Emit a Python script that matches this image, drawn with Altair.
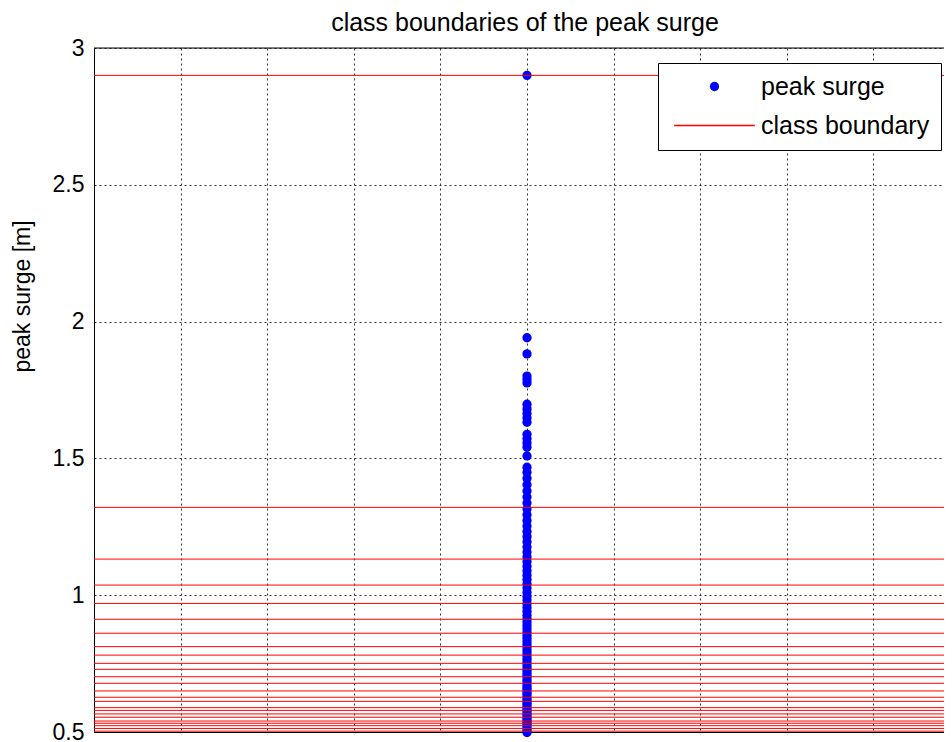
import altair as alt
import pandas as pd

# ---- data ----
SURGE_X = 5  # all events plotted at the same abscissa
PEAK_SURGE = [
    0.498, 0.505, 0.512, 0.520, 0.528, 0.535, 0.543, 0.550, 0.558, 0.565,
    0.573, 0.580, 0.588, 0.596, 0.604, 0.612, 0.620, 0.628, 0.637, 0.645,
    0.654, 0.662, 0.671, 0.680, 0.689, 0.698, 0.707, 0.716, 0.726, 0.735,
    0.745, 0.755, 0.765, 0.775, 0.786, 0.797, 0.808, 0.819, 0.830, 0.842,
    0.853, 0.865, 0.877, 0.889, 0.902, 0.914, 0.927, 0.940, 0.954, 0.968,
    0.982, 0.996, 1.011, 1.026, 1.041, 1.057, 1.073, 1.089, 1.106, 1.123,
    1.140, 1.158, 1.176, 1.195, 1.214, 1.233, 1.253, 1.273, 1.294, 1.315,
    1.337, 1.359, 1.381, 1.404, 1.427, 1.449, 1.468,
    1.509, 1.541, 1.556, 1.572, 1.588, 1.632, 1.648, 1.664, 1.681, 1.698,
    1.776, 1.789, 1.801, 1.882, 1.941, 2.900,
]
CLASS_BOUNDARIES = [
    2.900, 1.321, 1.132, 1.037, 0.970, 0.912, 0.861, 0.812, 0.781, 0.751,
    0.729, 0.702, 0.678, 0.650, 0.627, 0.612, 0.589, 0.579, 0.566, 0.554,
    0.540, 0.532, 0.523, 0.513, 0.503,
]
SERIES = ["peak surge", "class boundary"]
Y_TICKS = [0.5, 1, 1.5, 2, 2.5, 3]
X_GRID = [0, 1, 2, 3, 4, 5, 6, 7, 8, 9]
X_DOMAIN = [0, 9.815]
Y_DOMAIN = [0.5, 3]
TOP_EDGE = [3]

pts = pd.DataFrame({"x": [SURGE_X] * len(PEAK_SURGE), "y": PEAK_SURGE,
                    "series": ["peak surge"] * len(PEAK_SURGE)})
bnd = pd.DataFrame({"y": CLASS_BOUNDARIES})
top = pd.DataFrame({"y": TOP_EDGE})

FONT = "Liberation Sans"
LINE_SYMBOL = "M-8.7,-0.14H8.7V0.14H-8.7Z"

xscale = alt.Scale(domain=X_DOMAIN, nice=False, zero=False)
yscale = alt.Scale(domain=Y_DOMAIN, nice=False, zero=False)

xaxis = alt.Axis(values=X_GRID, labels=False, ticks=False, title=None,
                 domainColor="black", domainWidth=1,
                 gridColor="#333333", gridDash=[2, 3], gridWidth=1, gridOpacity=1)
yaxis = alt.Axis(values=Y_TICKS, format="~g", ticks=False, title="peak surge [m]",
                 labelFont=FONT, labelFontSize=23, labelColor="black", labelPadding=10,
                 titleFont=FONT, titleFontSize=23, titleFontWeight="normal",
                 titleColor="black", titleX=-72, titleY=248, titleAngle=270,
                 titleAlign="center", titleBaseline="middle",
                 domainColor="black", domainWidth=1,
                 gridColor="#333333", gridDash=[2, 3], gridWidth=1, gridOpacity=1)

legend = alt.Legend(
    orient="none", legendX=564, legendY=15, direction="vertical", title=None,
    fillColor="white", strokeColor="black", cornerRadius=0,
    padding=11, rowPadding=13,
    symbolSize=86, symbolStrokeWidth=0, symbolOffset=33, symbolOpacity=1,
    labelFont=FONT, labelFontSize=25, labelColor="black", labelOffset=34,
    labelLimit=400,
)

points = alt.Chart(pts).mark_point(filled=True, size=86, opacity=1).encode(
    x=alt.X("x:Q", scale=xscale, axis=xaxis),
    y=alt.Y("y:Q", scale=yscale, axis=yaxis),
    color=alt.Color("series:N", scale=alt.Scale(domain=SERIES, range=["#0000ff", "#ff0000"]),
                    legend=legend),
    shape=alt.Shape("series:N", scale=alt.Scale(domain=SERIES, range=["circle", LINE_SYMBOL]),
                    legend=legend),
)

rules = alt.Chart(bnd).mark_rule(color="#ff0000", strokeWidth=1).encode(
    y=alt.Y("y:Q", scale=yscale),
)

topline = alt.Chart(top).mark_rule(color="black", strokeWidth=1).encode(
    y=alt.Y("y:Q", scale=yscale),
)

chart = alt.layer(points, rules, topline).properties(
    width=850, height=684,
    title=alt.TitleParams("class boundaries of the peak surge", font=FONT, fontSize=25,
                          fontWeight="normal", color="black", anchor="middle", dx=6,
                          offset=1),
    autosize=alt.AutoSizeParams(type="none"),
    padding={"left": 86, "top": 40, "right": 0, "bottom": 10},
).configure_view(stroke=None).configure(background="white")

chart.save("out.html", embed_options={"renderer": "svg", "actions": False})
